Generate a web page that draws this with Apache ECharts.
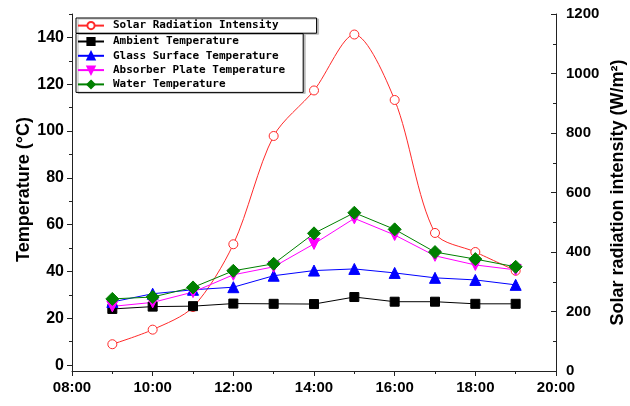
<!DOCTYPE html>
<html>
<head>
<meta charset="utf-8">
<script src="https://cdn.jsdelivr.net/npm/echarts@6/dist/echarts.min.js"></script>
<style>html,body{margin:0;padding:0;background:#fff}#c{width:630px;height:406px}</style>
</head>
<body>
<div id="c"></div>
<script>
// ---- data ----
var hours = [9, 10, 11, 12, 13, 14, 15, 16, 17, 18, 19];
var xTickLabels = ['08:00', '10:00', '12:00', '14:00', '16:00', '18:00', '20:00'];
var solar = [90, 139, 215, 426, 790, 943, 1131, 911, 464, 400, 337];
var ambient = [24.0, 25.0, 25.2, 26.3, 26.2, 26.1, 29.1, 27.1, 27.1, 26.2, 26.2];
var glass = [27.0, 30.5, 32.2, 33.3, 38.2, 40.4, 41.1, 39.4, 37.3, 36.4, 34.3];
var absorber = [25.1, 26.8, 31.2, 38.6, 42.0, 51.8, 62.7, 55.6, 46.7, 42.8, 40.7];
var water = [28.3, 29.1, 33.2, 40.3, 43.3, 56.3, 65.1, 58.0, 48.3, 45.3, 42.0];
var leftTickLabels = [0, 20, 40, 60, 80, 100, 120, 140];
var leftMinorTicks = [10, 30, 50, 70, 90, 110, 130, 150];

function pairs(v) { return hours.map(function (h, i) { return [h, v[i]]; }); }

var chart = echarts.init(document.getElementById('c'), null, {renderer: 'canvas'});
var axisCol = '#222';
var labelFont = {color: '#000', fontFamily: 'Liberation Sans, Arial, sans-serif', fontWeight: 'bold'};
var legendText = {color: '#000', fontFamily: 'DejaVu Sans Mono, monospace', fontWeight: 'bold', fontSize: 11, lineHeight: 14, padding: [0, 0, 0, 4]};

function lineSeries(name, data, color, symbol, size, extra) {
  var s = {
    name: name, type: 'line', data: pairs(data),
    symbol: symbol, symbolSize: size,
    lineStyle: {color: color, width: 1},
    itemStyle: {color: color, borderColor: color, borderWidth: 1, opacity: 1},
    emphasis: {disabled: true}, animation: false, z: 2
  };
  for (var k in extra) s[k] = extra[k];
  return s;
}

var option = {
  animation: false,
  backgroundColor: '#fff',
  grid: {left: 72, right: 74, top: 14, bottom: 35, containLabel: false, outerBoundsMode: 'none'},
  legend: [
    {
      data: ['Solar Radiation Intensity'], orient: 'vertical', left: 76, top: 18,
      itemWidth: 26, itemHeight: 9, padding: [0.6, 38, 0.6, 1],
      borderColor: '#000', borderWidth: 1, borderRadius: 0,
      backgroundColor: '#fff', shadowColor: '#bbb', shadowOffsetX: 2, shadowOffsetY: 1, shadowBlur: 0,
      textStyle: legendText, selectedMode: false
    },
    {
      data: ['Ambient Temperature', 'Glass Surface Temperature', 'Absorber Plate Temperature', 'Water Temperature'],
      orient: 'vertical', left: 76, top: 33.5, itemGap: 0.3,
      itemWidth: 26, itemHeight: 9, padding: [1, 18, 1, 1],
      borderColor: '#000', borderWidth: 1, borderRadius: 0,
      backgroundColor: '#fff', shadowColor: '#bbb', shadowOffsetX: 2, shadowOffsetY: 1, shadowBlur: 0,
      textStyle: legendText, selectedMode: false
    }
  ],
  xAxis: {
    type: 'value', min: 8, max: 20, interval: 2,
    axisLine: {onZero: false, lineStyle: {color: axisCol, width: 1}},
    axisTick: {length: 5, lineStyle: {color: axisCol}},
    minorTick: {show: true, splitNumber: 2, length: 3, lineStyle: {color: axisCol}},
    splitLine: {show: false},
    axisLabel: Object.assign({fontSize: 15, margin: 9, formatter: function (v) {
      return xTickLabels[Math.round((v - 8) / 2)];
    }}, labelFont)
  },
  yAxis: [
    {
      type: 'value', min: -2.5, max: 150, position: 'left',
      name: 'Temperature (°C)', nameLocation: 'middle', nameGap: 38.5, nameRotate: 90, nameMoveOverlap: false,
      nameTextStyle: Object.assign({fontSize: 18, padding: [0, 0, 0, 6]}, labelFont),
      axisLine: {show: true, lineStyle: {color: axisCol, width: 1}},
      axisTick: {show: true, length: 5, customValues: leftTickLabels, lineStyle: {color: axisCol}},
      axisLabel: Object.assign({fontSize: 16, margin: 8, customValues: leftTickLabels}, labelFont),
      splitLine: {show: false}
    },
    {
      type: 'value', min: 0, max: 1200, interval: 200, position: 'right',
      name: 'Solar radiation intensity (W/m²)', nameLocation: 'middle', nameGap: 53, nameRotate: 90, nameMoveOverlap: false,
      nameTextStyle: Object.assign({fontSize: 18}, labelFont),
      axisLine: {show: true, lineStyle: {color: axisCol, width: 1}},
      axisTick: {show: true, inside: true, length: 5, lineStyle: {color: axisCol}},
      minorTick: {show: true, splitNumber: 2, length: 3, lineStyle: {color: axisCol}},
      axisLabel: Object.assign({fontSize: 15, margin: 10, formatter: function (v) { return String(v); }}, labelFont),
      splitLine: {show: false}
    },
    {
      type: 'value', min: -2.5, max: 150, position: 'left',
      axisLine: {show: false},
      axisTick: {show: true, length: 3, customValues: leftMinorTicks, lineStyle: {color: axisCol}},
      axisLabel: {show: false},
      splitLine: {show: false}
    }
  ],
  series: [
    lineSeries('Solar Radiation Intensity', solar, '#ff2a2a', 'circle', 9,
      {yAxisIndex: 1, smooth: 0.3, itemStyle: {color: '#fff', borderColor: '#ff2a2a', borderWidth: 1, opacity: 1}}),
    lineSeries('Ambient Temperature', ambient, '#000000', 'rect', 9, {yAxisIndex: 0}),
    lineSeries('Glass Surface Temperature', glass, '#0000ff', 'triangle', 11, {yAxisIndex: 0}),
    lineSeries('Absorber Plate Temperature', absorber, '#ff00ff', 'triangle', 11, {yAxisIndex: 0, symbolRotate: 180}),
    lineSeries('Water Temperature', water, '#008000', 'diamond', 13, {yAxisIndex: 0})
  ]
};
chart.setOption(option);
</script>
</body>
</html>
